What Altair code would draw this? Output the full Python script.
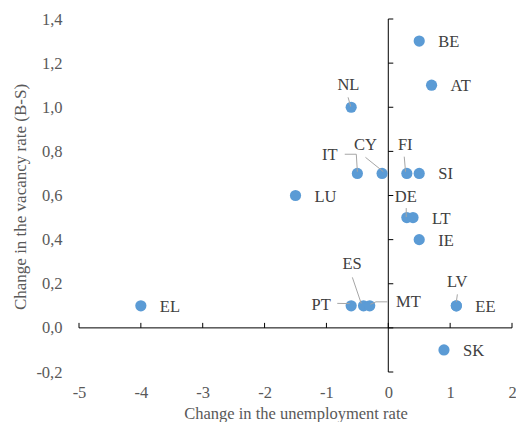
import altair as alt
import pandas as pd

# ---- data ----
countries = ["BE", "AT", "NL", "IT", "CY", "FI", "SI", "LU", "DE", "LT", "IE",
             "EL", "PT", "ES", "MT", "LV", "EE", "SK"]
unemp_change = [0.5, 0.7, -0.6, -0.5, -0.1, 0.3, 0.5, -1.5, 0.3, 0.4, 0.5,
                -4.0, -0.6, -0.4, -0.3, 1.1, 1.1, 0.9]
vacancy_change = [1.3, 1.1, 1.0, 0.7, 0.7, 0.7, 0.7, 0.6, 0.5, 0.5, 0.4,
                  0.1, 0.1, 0.1, 0.1, 0.1, 0.1, -0.1]

right_labeled = ["BE", "AT", "SI", "LU", "LT", "IE", "EL", "EE", "SK"]

# call-out labels (anchor in data units)
callout_names = ["NL", "IT", "CY", "FI", "DE", "ES", "PT", "MT", "LV"]
callout_x = [-0.645, -0.944, -0.371, 0.274, 0.282, -0.586, -1.086, 0.326, 1.115]
callout_y = [1.101, 0.784, 0.829, 0.829, 0.595, 0.289, 0.103, 0.118, 0.209]

# leader lines (data units)
leader_group = ["NL", "NL", "IT", "IT", "IT", "CY", "CY", "FI", "FI", "DE", "DE",
                "ES", "ES", "PT", "PT", "MT", "MT", "MT", "LV", "LV"]
leader_order = [0, 1, 0, 1, 2, 0, 1, 0, 1, 0, 1, 0, 1, 0, 1, 0, 1, 2, 0, 1]
leader_x = [-0.65, -0.608, -0.704, -0.517, -0.50, -0.369, -0.08, 0.258, 0.279,
            0.29, 0.29, -0.581, -0.438, -0.825, -0.624, -0.013, -0.199, -0.29,
            1.117, 1.10]
leader_y = [1.045, 1.003, 0.787, 0.787, 0.708, 0.773, 0.708, 0.776, 0.708,
            0.543, 0.502, 0.229, 0.111, 0.111, 0.110, 0.118, 0.118, 0.107,
            0.152, 0.118]

x_ticks = [-5, -4, -3, -2, -1, 0, 1, 2]
y_ticks = [-0.2, 0.0, 0.2, 0.4, 0.6, 0.8, 1.0, 1.2, 1.4]

x_title = "Change in the unemployment rate"
y_title = "Change in the vacancy rate (B-S)"

# ---- tables ----
points = pd.DataFrame({"country": countries, "x": unemp_change, "y": vacancy_change})
right_df = points[points["country"].isin(right_labeled)]
callouts = pd.DataFrame({"country": callout_names, "x": callout_x, "y": callout_y})
leaders = pd.DataFrame({"g": leader_group, "o": leader_order, "x": leader_x, "y": leader_y})
xaxis_line = pd.DataFrame({"x": [min(x_ticks)], "x2": [max(x_ticks)], "y": [0.0]})
yaxis_line = pd.DataFrame({"x": [0.0], "y": [min(y_ticks)], "y2": [max(y_ticks)]})
xt = pd.DataFrame({"x": x_ticks, "y": [0.0] * len(x_ticks)})
yt = pd.DataFrame({"y": y_ticks, "x": [0.0] * len(y_ticks)})

FONT = "Liberation Serif"
AX_COL = "#595959"
LAB_COL = "#404040"

xscale = alt.Scale(domain=[min(x_ticks), max(x_ticks)], nice=False, zero=False)
yscale = alt.Scale(domain=[min(y_ticks), max(y_ticks)], nice=False, zero=False)

W, H = 433, 353
PAD_L, PAD_T = 71, 11

xaxis = alt.Axis(values=x_ticks, domain=False, ticks=False, tickSize=0, grid=False,
                 labelFlush=False, labelOverlap=False,
                 labelExpr="datum.value < 0 ? '-' + abs(datum.value) : '' + datum.value",
                 labelFont=FONT, labelFontSize=16.5, labelColor=AX_COL,
                 labelBaseline="middle", labelPadding=20,
                 title=x_title, titleFont=FONT, titleFontSize=16.5,
                 titleFontWeight="normal", titleColor=AX_COL,
                 titleBaseline="alphabetic", titleX=W / 2, titleY=46, titleAlign="center")
yaxis = alt.Axis(values=y_ticks, domain=False, ticks=False, tickSize=0, grid=False,
                 labelFlush=False, labelOverlap=False,
                 labelExpr="(datum.value < 0 ? '-' : '') + replace(format(abs(datum.value), '.1f'), '.', ',')",
                 labelFont=FONT, labelFontSize=16.5, labelColor=AX_COL,
                 labelBaseline="middle", labelPadding=17,
                 title=y_title, titleFont=FONT, titleFontSize=17,
                 titleFontWeight="normal", titleColor=AX_COL,
                 titleBaseline="middle", titleAlign="center", titleAngle=270,
                 titleX=-(PAD_L + 8 - 20), titleY=H / 2 + 1)


def X(f):
    return alt.X(f, type="quantitative", scale=xscale, axis=xaxis)


def Y(f):
    return alt.Y(f, type="quantitative", scale=yscale, axis=yaxis)


xline = alt.Chart(xaxis_line).mark_rule(color="#000000", strokeWidth=1).encode(
    x=X("x"), x2="x2:Q", y=Y("y"))
yline = alt.Chart(yaxis_line).mark_rule(color="#000000", strokeWidth=1).encode(
    x=X("x"), y=Y("y"), y2="y2:Q")
xticks_m = alt.Chart(xt).mark_rule(color="#000000", strokeWidth=1, y2Offset=-5).encode(
    x=X("x"), y=Y("y"), y2="y:Q")
yticks_m = alt.Chart(yt).mark_rule(color="#000000", strokeWidth=1, x2Offset=5).encode(
    y=Y("y"), x=X("x"), x2="x:Q")

dots = alt.Chart(points).mark_circle(size=125, color="#5B9BD5", opacity=1).encode(
    x=X("x"), y=Y("y"))

lead = alt.Chart(leaders).mark_line(color="#A6A6A6", strokeWidth=1).encode(
    x=X("x"), y=Y("y"), detail="g:N", order="o:Q")

rlab = alt.Chart(right_df).mark_text(align="left", baseline="middle", dx=19, dy=1,
                                     font=FONT, fontSize=16.5, color=LAB_COL).encode(
    x=X("x"), y=Y("y"), text="country:N")
clab = alt.Chart(callouts).mark_text(align="center", baseline="middle",
                                     font=FONT, fontSize=16.5, color=LAB_COL).encode(
    x=X("x"), y=Y("y"), text="country:N")

chart = alt.layer(xline, yline, xticks_m, yticks_m, dots, lead, rlab, clab).properties(
    width=W, height=H,
    padding={"left": PAD_L, "top": PAD_T, "right": 4, "bottom": 50},
    autosize=alt.AutoSizeParams(type="none"),
).configure_view(stroke=None).configure_axis(
    labelFont=FONT, titleFont=FONT
).configure_text(font=FONT)

chart.save("out.html", embed_options={"renderer": "svg", "actions": False})
